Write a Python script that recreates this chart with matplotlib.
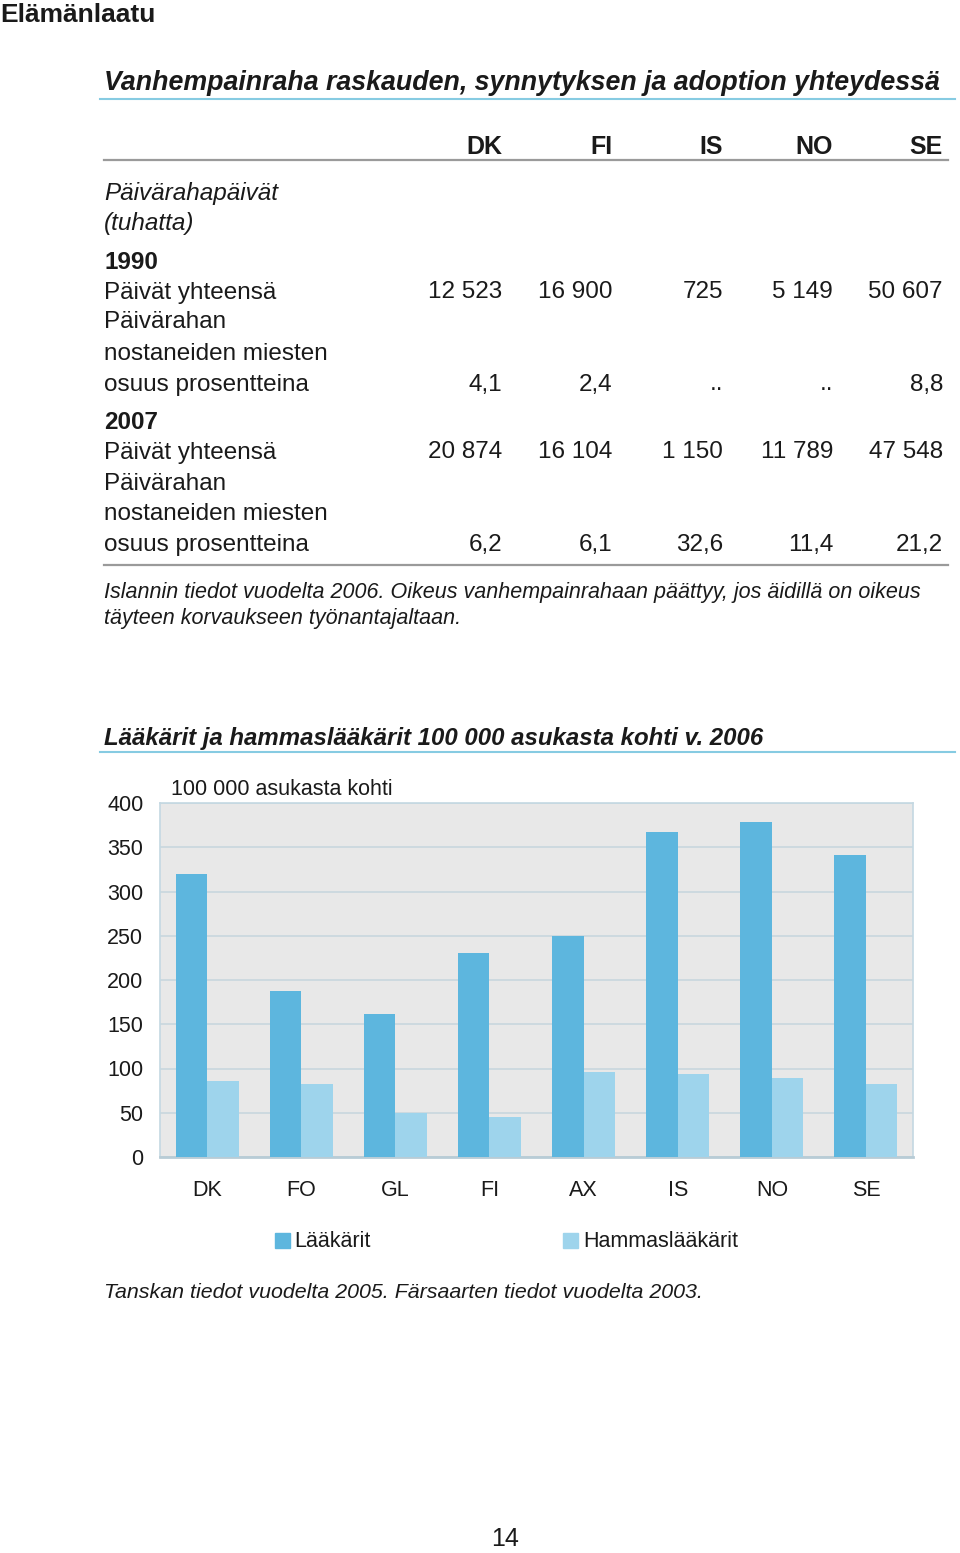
import matplotlib
matplotlib.use("Agg")
import matplotlib.pyplot as plt
import numpy as np
from matplotlib.patches import Rectangle

plt.rcParams['font.family'] = ['Liberation Sans', 'DejaVu Sans']

W, H = 960, 1553

# table data
table_cols = ["DK", "FI", "IS", "NO", "SE"]
days_1990 = ["12 523", "16 900", "725", "5 149", "50 607"]
men_1990 = ["4,1", "2,4", "..", "..", "8,8"]
days_2007 = ["20 874", "16 104", "1 150", "11 789", "47 548"]
men_2007 = ["6,2", "6,1", "32,6", "11,4", "21,2"]

# chart data
countries = ["DK", "FO", "GL", "FI", "AX", "IS", "NO", "SE"]
doctors = [320, 188, 162, 230, 250, 367, 379, 341]
dentists = [86, 83, 50, 45, 96, 94, 89, 82]
yticks = [0, 50, 100, 150, 200, 250, 300, 350, 400]

dark = "#5DB6DE"
light = "#9ED4EC"
blue_line = "#86CBE2"

fig = plt.figure(figsize=(W / 100, H / 100), dpi=100)


def T(x, y, s, **kw):
    kw.setdefault("va", "center")
    kw.setdefault("color", "#1a1a1a")
    fig.text(x / W, 1 - (y + 1.5) / H, s, **kw)


def hline(x0, x1, y, color, lw):
    fig.add_artist(plt.Line2D([x0 / W, x1 / W], [1 - y / H, 1 - y / H],
                              color=color, lw=lw, transform=fig.transFigure))


T(0, 14, "Elämänlaatu", fontsize=19, fontweight="bold")

# --- table section
T(104, 82, "Vanhempainraha raskauden, synnytyksen ja adoption yhteydessä",
  fontsize=19.3, fontweight="bold", style="italic")
hline(100, 955, 99, blue_line, 1.5)

col_x = [502, 612, 723, 833, 943]
for cx, c in zip(col_x, table_cols):
    T(cx, 146, c, fontsize=18, fontweight="bold", ha="right")
hline(104, 948, 160, "#9a9a9a", 1.6)

fs = 17.5
T(104, 192, "Päivärahapäivät", fontsize=fs, style="italic")
T(104, 222, "(tuhatta)", fontsize=fs, style="italic")

rows = [
    (261, "1990", None, True),
    (291, "Päivät yhteensä", days_1990, False),
    (321, "Päivärahan", None, False),
    (352, "nostaneiden miesten", None, False),
    (383, "osuus prosentteina", men_1990, False),
    (421, "2007", None, True),
    (451, "Päivät yhteensä", days_2007, False),
    (482, "Päivärahan", None, False),
    (512, "nostaneiden miesten", None, False),
    (543, "osuus prosentteina", men_2007, False),
]
for y, label, vals, bold in rows:
    T(104, y, label, fontsize=fs, fontweight="bold" if bold else "normal")
    if vals:
        for cx, v in zip(col_x, vals):
            T(cx, y, v, fontsize=fs, ha="right")
hline(104, 948, 565, "#9a9a9a", 1.6)

T(104, 591, "Islannin tiedot vuodelta 2006. Oikeus vanhempainrahaan päättyy, jos äidillä on oikeus",
  fontsize=15.5, style="italic")
T(104, 617, "täyteen korvaukseen työnantajaltaan.", fontsize=15.5, style="italic")

# --- chart section
T(104, 737, "Lääkärit ja hammaslääkärit 100 000 asukasta kohti v. 2006",
  fontsize=17.3, fontweight="bold", style="italic")
hline(100, 955, 752, blue_line, 1.5)
T(171, 788, "100 000 asukasta kohti", fontsize=15.5)

ax = fig.add_axes([160 / W, 1 - 1157 / H, (913 - 160) / W, (1157 - 803) / H])
ax.set_facecolor("#E8E8E8")
x = np.arange(len(countries))
bw = 0.335
ax.bar(x - bw / 2, doctors, bw, color=dark, zorder=3)
ax.bar(x + bw / 2, dentists, bw, color=light, zorder=3)
ax.set_xlim(-0.5, len(countries) - 0.5)
ax.set_ylim(0, 400)
ax.set_yticks(yticks)
ax.grid(axis="y", color="#C8D6DE", lw=1.2, zorder=1)
ax.set_xticks([])
ax.tick_params(axis="y", length=0, pad=12, labelsize=15.5, labelcolor="#1a1a1a")
for s in ax.spines.values():
    s.set_color("#C4D8E2")
    s.set_linewidth(1.2)
ax.spines["bottom"].set_color("#B8CCD6")
ax.spines["bottom"].set_linewidth(2)

for xi, c in zip(x, countries):
    ax.annotate(c, (xi, 0), xycoords=("data", "axes fraction"),
                xytext=(0, -34), textcoords="offset pixels",
                ha="center", va="center", fontsize=15.5, color="#1a1a1a")

# legend
fig.add_artist(Rectangle((275 / W, 1 - 1248 / H), 15 / W, 15 / H, color=dark,
                         transform=fig.transFigure))
T(294, 1240, "Lääkärit", fontsize=15.5)
fig.add_artist(Rectangle((563 / W, 1 - 1248 / H), 15 / W, 15 / H, color=light,
                         transform=fig.transFigure))
T(583, 1240, "Hammaslääkärit", fontsize=15.5)

T(104, 1291, "Tanskan tiedot vuodelta 2005. Färsaarten tiedot vuodelta 2003.",
  fontsize=15.4, style="italic")

T(505, 1537, "14", fontsize=18, ha="center")

fig.savefig("out.png", dpi=100)
